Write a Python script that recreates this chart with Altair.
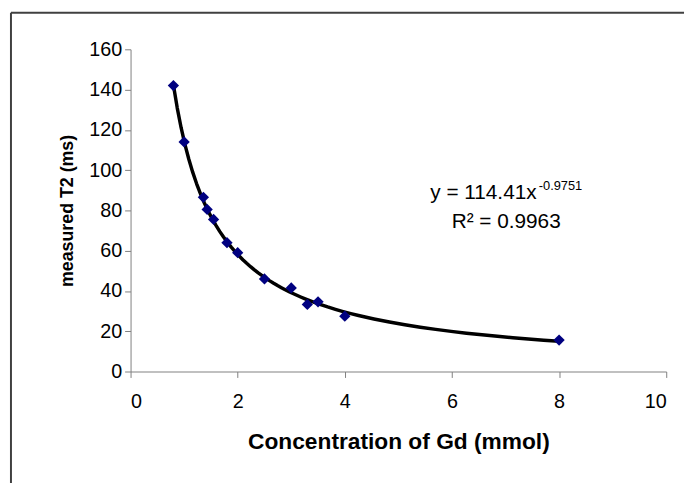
import altair as alt
import pandas as pd

# Data
conc = [0.8, 1.0, 1.36, 1.43, 1.55, 1.8, 2.0, 2.5, 3.0, 3.3, 3.5, 4.0, 8.0]
t2 = [142, 114, 86.5, 80.5, 75.5, 64, 59, 46, 41.5, 33.3, 34.6, 27.5, 15.6]

eq_main = "y = 114.41x"
eq_sup = "-0.9751"
r2_text = "R² = 0.9963"

df = pd.DataFrame({"x": conc, "y": t2})

FONT = "Liberation Sans"
W, H = 542, 326
PL, PT = 124, 39

x_enc = alt.X("x:Q", scale=alt.Scale(domain=[0, 10], nice=False),
              axis=alt.Axis(values=[0, 2, 4, 6, 8, 10], title="Concentration of Gd (mmol)"))
y_enc = alt.Y("y:Q", scale=alt.Scale(domain=[0, 160], nice=False),
              axis=alt.Axis(values=list(range(0, 161, 20)), title="measured T2 (ms)"))

base = alt.Chart(df)

trend = base.transform_regression("x", "y", method="pow").mark_line(
    color="black", strokeWidth=3.5, strokeJoin="round"
).encode(x=x_enc, y=y_enc)

points = base.mark_point(shape="diamond", filled=True, size=130, color="#000080", opacity=1).encode(
    x="x:Q", y="y:Q"
)

txt_main = alt.Chart(pd.DataFrame({"t": [eq_main]})).mark_text(
    font=FONT, fontSize=21, align="right", baseline="middle", color="black"
).encode(x=alt.datum(7.58), y=alt.datum(88.8), text="t:N")

txt_sup = alt.Chart(pd.DataFrame({"t": [eq_sup]})).mark_text(
    font=FONT, fontSize=13, align="left", baseline="middle", color="black"
).encode(x=alt.datum(7.62), y=alt.datum(92.3), text="t:N")

txt_r2 = alt.Chart(pd.DataFrame({"t": [r2_text]})).mark_text(
    font=FONT, fontSize=21, align="right", baseline="middle", color="black"
).encode(x=alt.datum(8.03), y=alt.datum(74.1), text="t:N")

border_left = alt.Chart(pd.DataFrame({"a": [0]})).mark_rule(color="#404040", strokeWidth=2).encode(
    x=alt.value(-121), y=alt.value(-37), y2=alt.value(460)
)
border_top = alt.Chart(pd.DataFrame({"a": [0]})).mark_rule(color="#404040", strokeWidth=2).encode(
    x=alt.value(-121), x2=alt.value(560), y=alt.value(-37)
)

chart = alt.layer(border_left, border_top, trend, points, txt_main, txt_sup, txt_r2).properties(
    width=W, height=H,
    autosize=alt.AutoSizeParams(type="none"),
    padding={"left": PL, "top": PT, "right": 20, "bottom": 110},
).configure_view(stroke=None).configure_axis(
    grid=False, domainColor="#808080", tickColor="#808080", domainWidth=1, tickWidth=1,
    tickSize=6, labelFont=FONT, labelFontSize=20, labelColor="black",
    titleFont=FONT, titleFontWeight="bold", titleColor="black",
).configure_axisX(labelPadding=14, titlePadding=20, titleFontSize=23).configure_axisY(
    labelPadding=3, titlePadding=12, titleFontSize=18)

chart.save("out.html", embed_options={"renderer": "svg", "actions": False})
